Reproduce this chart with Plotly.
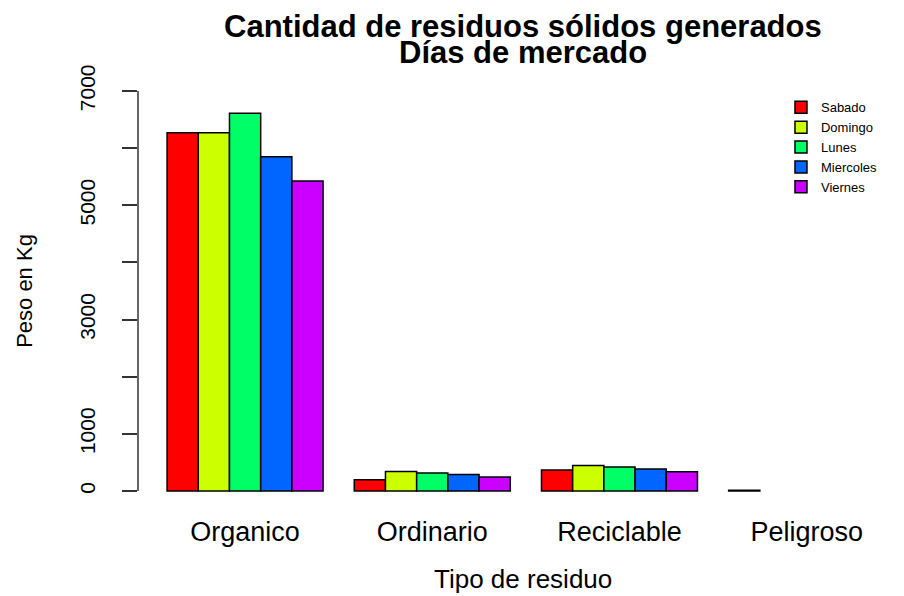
import plotly.graph_objects as go

tipos = ["Organico", "Ordinario", "Reciclable", "Peligroso"]
dias = ["Sabado", "Domingo", "Lunes", "Miercoles", "Viernes"]
colores = ["#FF0000", "#CCFF00", "#00FF66", "#0066FF", "#CC00FF"]

sabado = [6270, 198, 367, 15]
domingo = [6270, 343, 448, None]
lunes = [6610, 315, 420, None]
miercoles = [5850, 290, 385, None]
viernes = [5425, 245, 338, None]
valores = [sabado, domingo, lunes, miercoles, viernes]

y_ticks = [0, 1000, 2000, 3000, 4000, 5000, 6000, 7000]
y_labels = ["0", "1000", "", "3000", "", "5000", "", "7000"]

titulo = ["Cantidad de residuos sólidos generados", "Días de mercado"]

FONT = "Liberation Sans, Arial, sans-serif"

fig = go.Figure()
for dia, col, vals in zip(dias, colores, valores):
    fig.add_trace(go.Bar(
        x=tipos, y=vals, name=dia,
        marker=dict(color=col, line=dict(color="#000000", width=1.5)),
    ))

# y axis line only spans 0..7000, like base R
fig.add_shape(type="line", xref="paper", yref="y", x0=0, x1=0,
              y0=0, y1=7000, line=dict(color="#333333", width=1.5))

# two title lines, set tight like R's main title
for linea, ypos in zip(titulo, [1.113, 1.052]):
    fig.add_annotation(
        text=f"<b>{linea}</b>", xref="paper", yref="paper",
        x=0.503, y=ypos, xanchor="center", yanchor="middle",
        showarrow=False, font=dict(size=31, family=FONT, color="#000000"),
    )

# x axis title
fig.add_annotation(
    text="Tipo de residuo", xref="paper", yref="paper",
    x=0.503, y=-0.166, xanchor="center", yanchor="middle",
    showarrow=False, font=dict(size=26, family=FONT, color="#000000"),
)

fig.update_layout(
    width=904, height=596,
    margin=dict(l=138, r=0, t=75, b=89),
    paper_bgcolor="#FFFFFF", plot_bgcolor="#FFFFFF",
    barmode="group", bargap=1 / 6, bargroupgap=0,
    font=dict(family=FONT, color="#000000"),
    legend=dict(
        x=0.8394, y=0.96, xanchor="left", yanchor="top",
        font=dict(size=13, family=FONT), bgcolor="rgba(0,0,0,0)",
        itemwidth=30, tracegroupgap=0,
    ),
    xaxis=dict(
        range=[-0.572, 3.52], showline=False, showgrid=False, zeroline=False,
        automargin=False,
        ticks="", tickfont=dict(size=27), ticklabelstandoff=6,
    ),
    yaxis=dict(
        range=[-280, 7280], showline=False, showgrid=False, zeroline=False,
        automargin=False,
        tickvals=y_ticks, ticktext=y_labels, tickangle=-90,
        ticks="outside", ticklen=15, tickwidth=1.5, tickcolor="#333333",
        tickfont=dict(size=21), ticklabelstandoff=19,
        title=dict(text="Peso en Kg", font=dict(size=22), standoff=36),
    ),
)

fig.write_html("out.html", config={"displayModeBar": False},
               post_script="document.body.style.margin='0';")
